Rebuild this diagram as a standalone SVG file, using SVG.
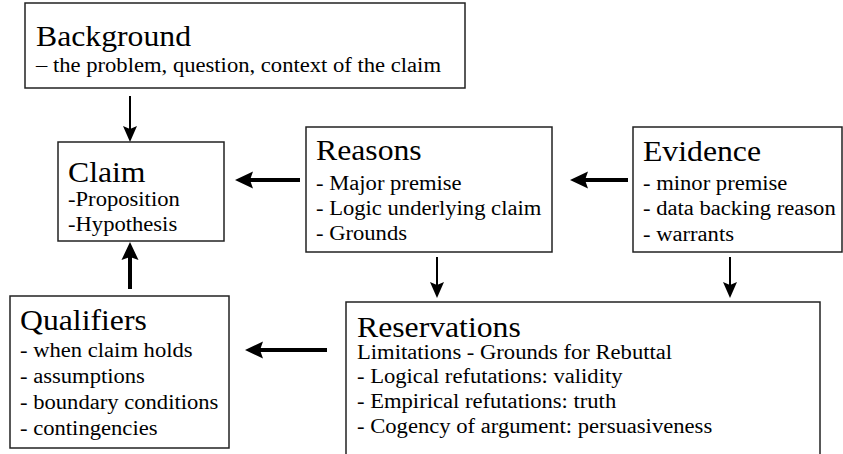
<svg xmlns="http://www.w3.org/2000/svg" width="843" height="454" viewBox="0 0 843 454">
<defs>
<style>
.box{fill:#fff;stroke:#222;stroke-width:1.5}
.t{font-family:"Liberation Serif","Times New Roman",serif;font-size:29px;fill:#000}
.b{font-family:"Liberation Serif","Times New Roman",serif;font-size:20px;fill:#000}
.thick{stroke:#000;stroke-width:4;fill:none;marker-end:url(#ah)}
.thin{stroke:#000;stroke-width:2;fill:none;marker-end:url(#at)}
</style>
<marker id="ah" markerUnits="userSpaceOnUse" markerWidth="20" markerHeight="18" refX="8" refY="8.5" orient="auto" overflow="visible">
<path d="M0,0 L18,8.5 L0,17 L3,8.5 Z" fill="#000"/>
</marker>
<marker id="at" markerUnits="userSpaceOnUse" markerWidth="18" markerHeight="14" refX="6" refY="7" orient="auto" overflow="visible">
<path d="M0,0 L16,7 L0,14 L3,7 Z" fill="#000"/>
</marker>
</defs>
<rect width="843" height="454" fill="#fff"/>
<g id="connectors">
<line class="thin" x1="130" y1="96" x2="130" y2="132"/>
<line class="thick" x1="300" y1="180" x2="245" y2="180"/>
<line class="thick" x1="628" y1="180" x2="580" y2="180"/>
<line class="thick" x1="130" y1="289" x2="130" y2="252"/>
<line class="thin" x1="437" y1="257" x2="437" y2="288"/>
<line class="thin" x1="730" y1="257" x2="730" y2="288"/>
<line class="thick" x1="327" y1="350" x2="255" y2="350"/>
</g>
<g id="background">
<rect class="box" x="25" y="3" width="440" height="85"/>
<text class="t" x="36" y="46" textLength="155" lengthAdjust="spacingAndGlyphs">Background</text>
<text class="b" x="36" y="72" textLength="405" lengthAdjust="spacingAndGlyphs">– the problem, question, context of the claim</text>
</g>
<g id="claim">
<rect class="box" x="58" y="142" width="166" height="99"/>
<text class="t" x="68" y="182" textLength="77.5" lengthAdjust="spacingAndGlyphs">Claim</text>
<text class="b" x="68" y="206" textLength="111.8" lengthAdjust="spacingAndGlyphs">-Proposition</text>
<text class="b" x="68" y="231" textLength="109.2" lengthAdjust="spacingAndGlyphs">-Hypothesis</text>
</g>
<g id="reasons">
<rect class="box" x="306" y="127" width="246" height="125"/>
<text class="t" x="316" y="160" textLength="105.7" lengthAdjust="spacingAndGlyphs">Reasons</text>
<text class="b" x="316" y="190" textLength="145.6" lengthAdjust="spacingAndGlyphs">- Major premise</text>
<text class="b" x="316" y="215" textLength="225.3" lengthAdjust="spacingAndGlyphs">- Logic underlying claim</text>
<text class="b" x="316" y="240" textLength="91" lengthAdjust="spacingAndGlyphs">- Grounds</text>
</g>
<g id="evidence">
<rect class="box" x="633" y="127" width="209" height="125"/>
<text class="t" x="643" y="161" textLength="118" lengthAdjust="spacingAndGlyphs">Evidence</text>
<text class="b" x="643" y="190" textLength="144.4" lengthAdjust="spacingAndGlyphs">- minor premise</text>
<text class="b" x="643" y="215" textLength="192.7" lengthAdjust="spacingAndGlyphs">- data backing reason</text>
<text class="b" x="643" y="241" textLength="91" lengthAdjust="spacingAndGlyphs">- warrants</text>
</g>
<g id="qualifiers">
<rect class="box" x="10" y="296" width="219" height="152"/>
<text class="t" x="20" y="330" textLength="126.8" lengthAdjust="spacingAndGlyphs">Qualifiers</text>
<text class="b" x="20" y="357" textLength="172.6" lengthAdjust="spacingAndGlyphs">- when claim holds</text>
<text class="b" x="20" y="383" textLength="124.9" lengthAdjust="spacingAndGlyphs">- assumptions</text>
<text class="b" x="20" y="409" textLength="198.4" lengthAdjust="spacingAndGlyphs">- boundary conditions</text>
<text class="b" x="20" y="435" textLength="137.5" lengthAdjust="spacingAndGlyphs">- contingencies</text>
</g>
<g id="reservations">
<rect class="box" x="346" y="302" width="474" height="170"/>
<text class="t" x="357" y="337" textLength="163.8" lengthAdjust="spacingAndGlyphs">Reservations</text>
<text class="b" x="357" y="359" textLength="315.1" lengthAdjust="spacingAndGlyphs">Limitations - Grounds for Rebuttal</text>
<text class="b" x="357" y="383" textLength="265.5" lengthAdjust="spacingAndGlyphs">- Logical refutations: validity</text>
<text class="b" x="357" y="408" textLength="259.2" lengthAdjust="spacingAndGlyphs">- Empirical refutations: truth</text>
<text class="b" x="357" y="433" textLength="355.2" lengthAdjust="spacingAndGlyphs">- Cogency of argument: persuasiveness</text>
</g>
</svg>
